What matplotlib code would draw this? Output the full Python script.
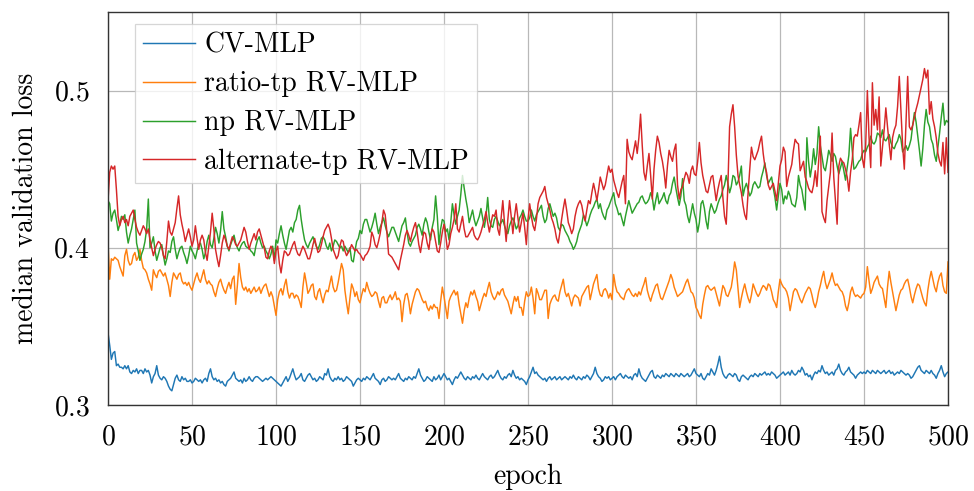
import matplotlib

matplotlib.use("Agg")
import matplotlib.pyplot as plt
import numpy as np

# median validation loss per epoch, in thousandths
cv_mlp = [
    346, 338, 329, 333, 334, 325, 326, 324, 324, 323,
    325, 323, 325, 321, 320, 322, 321, 323, 320, 322,
    322, 320, 323, 321, 322, 319, 314, 318, 320, 325,
    319, 317, 316, 318, 317, 315, 312, 310, 309, 313,
    317, 319, 316, 315, 318, 316, 317, 315, 315, 316,
    314, 315, 317, 316, 315, 316, 314, 316, 317, 315,
    320, 323, 318, 316, 317, 315, 316, 314, 315, 313,
    312, 315, 316, 317, 319, 321, 317, 316, 315, 316,
    314, 317, 315, 316, 318, 316, 315, 317, 318, 318,
    317, 316, 315, 316, 317, 316, 317, 318, 317, 316,
    315, 314, 313, 312, 314, 316, 318, 315, 317, 320,
    323, 319, 316, 317, 318, 320, 316, 315, 317, 319,
    320, 318, 316, 317, 315, 316, 318, 317, 316, 320,
    319, 323, 318, 316, 315, 317, 316, 318, 316, 317,
    315, 316, 318, 317, 316, 315, 312, 314, 316, 317,
    316, 315, 317, 316, 318, 317, 316, 318, 320, 317,
    316, 315, 313, 316, 317, 315, 316, 318, 317, 316,
    317, 316, 318, 320, 317, 316, 315, 317, 316, 318,
    317, 316, 318, 317, 320, 323, 319, 317, 315, 316,
    318, 317, 316, 315, 318, 316, 317, 319, 316, 318,
    320, 318, 316, 317, 315, 313, 316, 318, 317, 319,
    321, 319, 317, 316, 318, 317, 316, 318, 317, 319,
    317, 316, 318, 320, 318, 317, 316, 318, 319, 317,
    318, 320, 322, 319, 317, 316, 318, 317, 319, 320,
    318, 322, 319, 317, 318, 316, 317, 316, 315, 313,
    316, 318, 321, 324, 320, 321, 319, 318, 317, 316,
    317, 315, 317, 318, 316, 317, 318, 316, 317, 318,
    316, 317, 318, 317, 316, 318, 317, 319, 317, 316,
    318, 317, 316, 318, 317, 319, 318, 316, 318, 320,
    324, 320, 318, 317, 315, 316, 318, 317, 318, 316,
    317, 318, 316, 318, 319, 320, 318, 317, 319, 318,
    317, 318, 316, 319, 320, 318, 323, 319, 317, 316,
    315, 317, 319, 321, 322, 318, 317, 319, 318, 317,
    319, 318, 320, 319, 318, 320, 319, 318, 320, 319,
    318, 320, 319, 318, 319, 320, 318, 319, 321, 323,
    320, 319, 318, 320, 317, 316, 318, 320, 319, 323,
    321, 319, 322, 326, 331, 324, 320, 318, 317, 319,
    320, 319, 318, 320, 319, 316, 315, 318, 319, 318,
    317, 316, 318, 319, 318, 320, 319, 318, 320, 319,
    320, 321, 319, 320, 319, 321, 320, 319, 317, 318,
    319, 320, 321, 319, 320, 321, 319, 322, 320, 319,
    320, 322, 321, 324, 322, 319, 320, 318, 319, 316,
    319, 321, 320, 322, 321, 325, 322, 320, 321, 319,
    320, 321, 319, 322, 323, 326, 322, 320, 319, 321,
    322, 324, 321, 320, 319, 317, 319, 320, 321, 320,
    321, 320, 322, 321, 320, 322, 321, 320, 322, 321,
    320, 321, 322, 320, 321, 322, 320, 321, 319, 320,
    321, 320, 322, 321, 320, 319, 320, 319, 317, 318,
    320, 322, 324, 325, 322, 321, 320, 322, 321, 320,
    322, 320, 319, 317, 320, 322, 325, 321, 318, 320,
    321,
]

ratio_tp = [
    403, 380, 393, 392, 394, 393, 392, 388, 385, 382,
    395, 399, 392, 389, 390, 395, 397, 392, 394, 399,
    392, 387, 386, 384, 380, 377, 373, 386, 383, 381,
    385, 386, 384, 382, 384, 380, 376, 369, 378, 384,
    382, 380, 383, 384, 379, 377, 378, 376, 378, 375,
    373, 377, 381, 384, 380, 378, 382, 386, 380, 377,
    379, 377, 376, 372, 369, 374, 378, 380, 376, 373,
    371, 375, 378, 374, 380, 382, 364, 376, 390, 381,
    375, 373, 375, 372, 374, 371, 373, 375, 372, 373,
    375, 371, 374, 376, 377, 373, 369, 372, 369, 363,
    357, 367, 372, 374, 370, 376, 380, 372, 368, 371,
    371, 368, 370, 369, 366, 362, 375, 384, 378, 371,
    373, 376, 377, 369, 367, 372, 374, 369, 365, 370,
    373, 372, 377, 382, 375, 372, 373, 378, 384, 390,
    386, 373, 365, 358, 368, 377, 374, 369, 372, 367,
    365, 370, 374, 372, 378, 374, 371, 369, 370, 372,
    371, 366, 362, 368, 369, 365, 365, 368, 370, 367,
    369, 372, 367, 368, 366, 353, 364, 370, 371, 366,
    358, 364, 368, 372, 374, 373, 370, 367, 365, 366,
    362, 360, 363, 361, 364, 362, 362, 355, 366, 375,
    369, 362, 355, 366, 369, 371, 373, 370, 372, 364,
    358, 352, 360, 365, 362, 368, 372, 370, 373, 369,
    366, 360, 364, 368, 371, 369, 374, 378, 372, 369,
    367, 369, 372, 370, 373, 374, 370, 368, 366, 362,
    358, 364, 369, 366, 369, 362, 362, 357, 366, 372,
    369, 370, 375, 368, 358, 374, 371, 367, 367, 370,
    373, 373, 355, 364, 367, 369, 370, 367, 366, 372,
    376, 380, 372, 369, 371, 367, 363, 368, 370, 369,
    368, 363, 369, 371, 373, 375, 376, 367, 372, 377,
    380, 383, 374, 370, 369, 373, 374, 372, 368, 371,
    367, 383, 376, 372, 371, 369, 368, 367, 371, 373,
    374, 372, 370, 369, 371, 369, 372, 370, 374, 377,
    381, 373, 369, 366, 370, 373, 376, 377, 372, 368,
    367, 370, 373, 376, 379, 383, 380, 375, 372, 369,
    370, 371, 372, 375, 378, 380, 376, 372, 371, 368,
    362, 360, 357, 355, 364, 370, 375, 376, 374, 373,
    374, 375, 371, 367, 363, 370, 376, 374, 370, 369,
    372, 375, 382, 391, 386, 374, 362, 368, 373, 377,
    372, 368, 365, 370, 377, 374, 371, 369, 371, 374,
    376, 375, 373, 377, 376, 372, 367, 365, 362, 372,
    380, 377, 375, 374, 372, 368, 360, 366, 372, 374,
    373, 370, 367, 365, 368, 371, 373, 375, 374, 370,
    365, 362, 366, 372, 376, 381, 385, 378, 374, 377,
    380, 384, 379, 376, 377, 375, 373, 372, 369, 363,
    360, 365, 372, 375, 371, 369, 370, 369, 368, 370,
    371, 375, 388, 379, 371, 374, 378, 380, 382, 377,
    375, 374, 368, 362, 375, 385, 378, 372, 366, 360,
    365, 370, 373, 374, 377, 379, 380, 375, 369, 365,
    370, 374, 377, 376, 372, 368, 365, 363, 373, 380,
    385, 380, 375, 372, 378, 382, 384, 376, 372, 371,
    391,
]

np_rv = [
    430, 428, 417, 422, 424, 418, 411, 415, 420, 418,
    421, 410, 403, 408, 412, 418, 424, 403, 398, 392,
    396, 399, 404, 412, 431, 400, 403, 407, 398, 392,
    396, 400, 402, 395, 389, 393, 398, 397, 404, 407,
    399, 393, 397, 400, 401, 397, 394, 390, 395, 401,
    398, 396, 393, 398, 402, 403, 399, 393, 397, 404,
    408, 402, 400, 406, 413, 409, 403, 411, 423, 412,
    407, 401, 398, 402, 405, 408, 403, 400, 398, 401,
    403, 404, 401, 400, 400, 398, 397, 395, 401, 405,
    407, 403, 400, 401, 398, 396, 393, 396, 401, 392,
    405, 403, 409, 414, 408, 403, 399, 405, 411, 413,
    410, 416, 418, 424, 427, 418, 411, 405, 402, 400,
    403, 405, 407, 404, 401, 399, 402, 406, 407, 405,
    401, 399, 403, 398, 401, 405, 404, 402, 400, 401,
    398, 401, 399, 397, 400, 392, 391, 398, 404, 406,
    411, 409, 415, 418, 418, 414, 410, 413, 417, 422,
    415, 409, 413, 416, 419, 414, 410, 407, 410, 413,
    413, 410, 407, 404, 409, 414, 416, 419, 410, 403,
    401, 404, 406, 408, 413, 415, 412, 408, 415, 419,
    416, 410, 405, 413, 418, 433, 420, 402, 412, 418,
    417, 410, 412, 405, 416, 428, 421, 415, 420, 424,
    434, 446, 438, 431, 425, 416, 420, 424, 418, 414,
    417, 420, 425, 419, 413, 420, 432, 418, 414, 413,
    418, 420, 417, 414, 416, 418, 414, 411, 409, 414,
    417, 419, 416, 412, 414, 419, 421, 424, 420, 417,
    417, 419, 424, 420, 417, 421, 423, 425, 427, 420,
    416, 418, 425, 428, 424, 420, 422, 419, 413, 411,
    415, 414, 411, 409, 407, 404, 402, 399, 401, 404,
    409, 412, 415, 421, 418, 414, 417, 421, 424, 426,
    429, 431, 425, 428, 423, 420, 418, 424, 426, 429,
    432, 435, 428, 425, 421, 422, 418, 414, 420, 425,
    430, 426, 422, 424, 426, 428, 429, 432, 433, 430,
    428, 429, 431, 435, 432, 424, 430, 435, 428, 430,
    432, 435, 430, 428, 433, 435, 441, 445, 438, 432,
    427, 433, 444, 430, 427, 420, 416, 422, 428, 422,
    418, 410, 416, 428, 430, 425, 417, 412, 423, 428,
    425, 422, 424, 428, 431, 433, 437, 440, 446, 441,
    435, 439, 446, 445, 440, 442, 446, 452, 433, 438,
    441, 437, 433, 435, 440, 442, 440, 438, 439, 445,
    449, 454, 446, 441, 443, 445, 438, 432, 424, 433,
    441, 437, 428, 433, 431, 436, 433, 428, 427, 426,
    432, 446, 440, 437, 430, 424, 470, 455, 445, 452,
    463, 453, 460, 477, 465, 458, 451, 449, 455, 462,
    459, 455, 460, 458, 452, 447, 451, 455, 449, 443,
    451, 459, 476, 462, 450, 451, 453, 455, 456, 460,
    462, 461, 464, 466, 471, 467, 466, 468, 473, 472,
    470, 475, 469, 468, 470, 472, 467, 464, 463, 466,
    468, 472, 469, 461, 463, 465, 462, 465, 469, 478,
    486, 480, 471, 462, 452, 463, 478, 488, 480, 477,
    469, 466, 459, 455, 464, 473, 483, 492, 478, 481,
    480,
]

alternate_tp = [
    430, 448, 452, 450, 452, 437, 420, 414, 418, 420,
    416, 418, 414, 420, 422, 424, 418, 413, 410, 408,
    411, 414, 412, 409, 412, 405, 400, 395, 399, 402,
    404, 403, 400, 395, 393, 404, 417, 410, 408, 412,
    416, 425, 433, 421, 415, 410, 404, 408, 412, 407,
    401, 405, 414, 406, 399, 405, 408, 405, 397, 392,
    401, 410, 422, 412, 399, 393, 388, 395, 403, 408,
    405, 401, 399, 403, 407, 405, 402, 401, 403, 405,
    409, 413, 410, 404, 399, 403, 406, 409, 405, 410,
    412, 408, 404, 400, 394, 393, 398, 401, 399, 390,
    398, 401, 390, 384, 392, 398, 397, 395, 396, 399,
    402, 404, 399, 396, 395, 398, 401, 399, 396, 393,
    393, 397, 402, 406, 401, 397, 398, 402, 407, 411,
    413, 415, 412, 406, 399, 396, 393, 395, 401, 405,
    404, 398, 395, 397, 399, 402, 400, 398, 399, 397,
    396, 394, 392, 395, 396, 398, 401, 410, 407, 402,
    400, 404, 409, 416, 424, 421, 410, 396, 395, 394,
    392, 390, 388, 386, 392, 397, 402, 408, 411, 408,
    404, 409, 413, 416, 410, 402, 397, 404, 410, 409,
    403, 399, 408, 412, 410, 404, 398, 397, 403, 410,
    415, 408, 399, 402, 409, 413, 418, 428, 412, 410,
    415, 420, 412, 407, 407, 409, 411, 413, 408, 406,
    405, 407, 410, 414, 418, 423, 416, 410, 416, 421,
    420, 424, 412, 408, 419, 430, 416, 404, 418, 430,
    420, 409, 420, 428, 419, 410, 416, 422, 413, 402,
    418, 428, 420, 414, 411, 418, 428, 432, 434, 436,
    439, 432, 428, 424, 419, 416, 412, 406, 403, 410,
    418, 425, 431, 424, 416, 413, 409, 412, 420, 425,
    428, 430, 427, 421, 417, 424, 430, 428, 435, 441,
    436, 430, 437, 445, 441, 437, 440, 446, 452, 448,
    450, 443, 439, 435, 432, 437, 442, 446, 428, 469,
    461, 458, 456, 462, 468, 460, 470, 485, 465, 448,
    443, 452, 460, 446, 431, 450, 462, 471, 467, 460,
    455, 448, 438, 452, 462, 458, 455, 462, 466, 440,
    431, 437, 439, 444, 448, 446, 441, 449, 452, 447,
    446, 455, 467, 454, 446, 441, 436, 435, 440, 445,
    446, 438, 430, 437, 442, 446, 432, 420, 415, 440,
    477, 485, 491, 477, 459, 446, 440, 435, 427, 421,
    418, 435, 450, 464, 458, 456, 459, 462, 467, 471,
    460, 452, 448, 440, 437, 439, 441, 436, 430, 441,
    452, 456, 464, 461, 439, 445, 449, 453, 462, 469,
    467, 466, 449, 452, 455, 445, 442, 438, 436, 435,
    440, 449, 439, 455, 471, 423, 419, 416, 430, 439,
    448, 473, 445, 430, 415, 452, 457, 455, 454, 450,
    445, 436, 448, 456, 470, 472, 471, 478, 486, 457,
    451, 465, 500, 470, 451, 505, 478, 488, 475, 496,
    452, 464, 475, 489, 477, 466, 456, 470, 475, 478,
    490, 509, 487, 465, 450, 480, 509, 477, 475, 478,
    483, 488, 492, 497, 502, 507, 514, 508, 513, 485,
    493, 482, 477, 470, 460, 455, 452, 467, 447, 470,
    448,
]

labels = ["CV-MLP", "ratio-tp RV-MLP", "np RV-MLP", "alternate-tp RV-MLP"]
colors = ["#1f77b4", "#ff7f0e", "#2ca02c", "#d62728"]

FS = 20

plt.rcParams["font.family"] = "cmr10"
plt.rcParams["mathtext.fontset"] = "cm"
plt.rcParams["axes.formatter.use_mathtext"] = True

fig = plt.figure(figsize=(9.74, 4.91), dpi=100)
ax = fig.add_axes([0.1109, 0.1752, 0.8624, 0.8004])

for series, label, color in zip([cv_mlp, ratio_tp, np_rv, alternate_tp], labels, colors):
    loss = np.asarray(series) / 1000
    ax.plot(np.arange(len(loss)), loss, color=color, lw=1.05, label=label)

ax.set_xlim(0, 500)
ax.set_ylim(0.3, 0.55)
ax.set_xticks(np.arange(0, 501, 50))
ax.set_yticks([0.3, 0.4, 0.5])
ax.grid(True, color="#b8b8b8", lw=0.9)
ax.set_axisbelow(True)
ax.tick_params(labelsize=FS, length=0)
ax.tick_params(axis="x", pad=14)
ax.tick_params(axis="y", pad=13)
for sp in ax.spines.values():
    sp.set_color("#333333")
    sp.set_linewidth(1.0)

ax.set_xlabel("epoch", fontsize=FS, labelpad=9.5)
ax.set_ylabel("median validation loss", fontsize=FS, labelpad=10)

leg = ax.legend(loc="upper left", bbox_to_anchor=(0.032, 0.9695), borderaxespad=0,
                fontsize=FS, fancybox=False, edgecolor="#cccccc",
                labelspacing=0.45, handlelength=1.85, handletextpad=0.35,
                borderpad=0.3)
leg.get_frame().set_linewidth(0.9)

fig.savefig("out.png", dpi=100)
